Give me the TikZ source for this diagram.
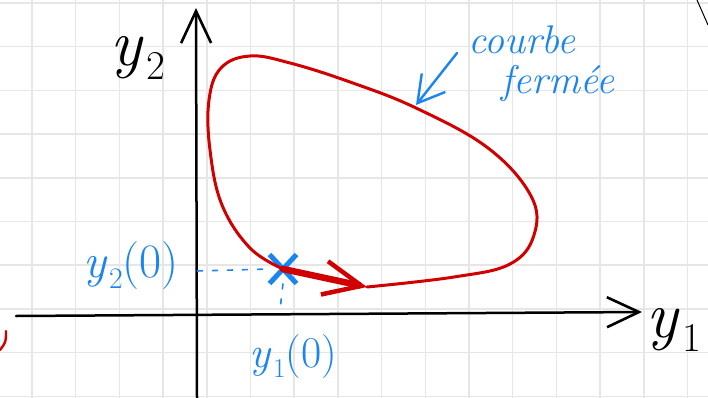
\documentclass[tikz,border=0pt]{standalone}
\usepackage{fontspec}
\setmainfont{Latin Modern Roman}
\usepackage{tikz}
\usetikzlibrary{arrows.meta,shapes.misc}
\definecolor{handRed}{HTML}{D10000}
\definecolor{handBlue}{HTML}{1A84F0}
\definecolor{gridGray}{HTML}{E6E6E6}
% handwritten-like variable with index
\newcommand{\var}[2]{\textit{y}\kern0.04em\raisebox{-0.22em}{\fontsize{0.62em}{0.62em}\selectfont#1}#2}
\tikzset{
    gridLine/.style={draw=gridGray, line width=1.5pt},
    axisLine/.style={
        draw=black,
        line width=2.5pt,
        line cap=round,
        -{Straight Barb[length=32pt, width=30pt, line width=2.6pt]}
    },
    axisLabel/.style={font=\fontsize{66}{66}\selectfont, inner sep=0pt},
    % blue annotations
    noteLabel/.style={font=\fontsize{#1}{#1}\selectfont, text=handBlue, inner sep=0pt},
    noteText/.style={font=\fontsize{40}{40}\selectfont\itshape, text=handBlue, inner sep=0pt},
    noteArrow/.style={draw=handBlue, line width=2.4pt, line cap=round,
        -{Straight Barb[length=26pt, width=30pt, line width=2.4pt]}},
    guideLine/.style={draw=handBlue, line width=1.6pt, dash pattern=on 6pt off 9pt},
    startMark/.style={cross out, draw=handBlue, line width=5pt,
        minimum width=22pt, minimum height=24pt, inner sep=0pt},
    % trajectory
    orbitLine/.style={draw=handRed, line width=3pt, line cap=round, line join=round},
    flowArrow/.style={draw=handRed, line width=6.5pt, line cap=round,
        -{Straight Barb[length=38pt, width=34pt, line width=4.5pt]}}
}

\begin{document}
\begin{tikzpicture}[x=1pt, y=-1pt]
\useasboundingbox (0,0) rectangle (708,398);

% squared paper
\foreach \i in {0,...,15}
    \draw[gridLine] ({32+43.7*\i},0) -- ({32+43.7*\i},398);
\foreach \j in {0,...,9}
    \draw[gridLine] (0,{3+43.7*\j}) -- (708,{3+43.7*\j});

% axes
\coordinate (xStart) at (16,316);
\coordinate (xEnd) at (642,312);
\coordinate (yStart) at (197,398);
\coordinate (yEnd) at (196,8);
\draw[axisLine] (xStart) -- (xEnd);
\draw[axisLine] (yStart) -- (yEnd);
\node[axisLabel] (lblY1) at (674,330) {\var{1}{}};
\node[axisLabel] (lblY2) at (138,58) {\var{2}{}};

% initial point
\node[startMark] (init) at (283,269) {};
\coordinate (onY2) at (197,271);
\coordinate (onY1) at (280,310);
\draw[guideLine] (onY2) -- (init.west);
\draw[guideLine] (init.south) -- (onY1);
\node[noteLabel=48] (lblInitY2) at (131,266) {\var{2}{(0)}};
\node[noteLabel=44] (lblInitY1) at (293,357) {\var{1}{(0)}};

% closed trajectory
\coordinate (tip) at (367,287);
\draw[orbitLine] plot[smooth, tension=0.65] coordinates {
    (tip) (454,277) (510,264) (534,235) (531,196) (488,148)
    (416,108) (350,82) (290,63) (250,56) (221,68)
    (209,100) (210,150) (222,205) (250,248) (init.center)};
\draw[flowArrow] (init.center) -- (tip);

% label of the curve
\node[noteText] (lblCourbe) at (522,40) {courbe};
\node[noteText] (lblFermee) at (558,84) {fermée};
\coordinate (arrStart) at (457,53);
\coordinate (onCurve) at (416,105);
\draw[noteArrow] (arrStart) -- (onCurve);

% bits of neighbouring notes at the page edges
\draw[black, line width=1pt] (697,0) -- (708,25);
\draw[handRed, line width=2.4pt, line cap=round] (6,331) .. controls (6,342) .. (0,350);
\end{tikzpicture}
\end{document}
